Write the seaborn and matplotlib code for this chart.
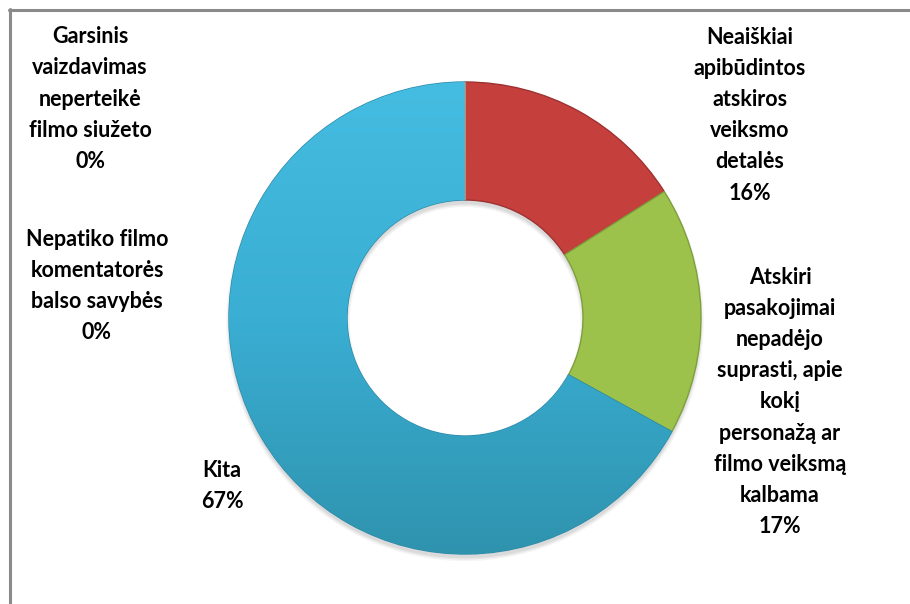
import matplotlib
matplotlib.use("Agg")
import matplotlib.pyplot as plt
from matplotlib.colors import LinearSegmentedColormap
from matplotlib.lines import Line2D
import numpy as np
import seaborn as sns

categories = [
    "Neaiškiai\napibūdintos\natskiros\nveiksmo\ndetalės",
    "Atskiri\npasakojimai\nnepadėjo\nsuprasti, apie\nkokį\npersonažą ar\nfilmo veiksmą\nkalbama",
    "Kita",
    "Nepatiko filmo\nkomentatorės\nbalso savybės",
    "Garsinis\nvaizdavimas\nneperteikė\nfilmo siužeto",
]
shares = [16, 17, 67, 0, 0]
colors = ["#c53f3d", "#9cc24b", "#3aaed3", "#8064a2", "#f79646"]

sns.set_theme(style="white")
plt.rcParams["font.family"] = ["Lato", "DejaVu Sans"]

W, H = 910, 604
fig = plt.figure(figsize=(W / 100, H / 100), dpi=100)
fig.patch.set_facecolor("white")

cx, cy, r = 465, 318, 236
ring = 0.5
ax = fig.add_axes([(cx - r) / W, (H - cy - r) / H, 2 * r / W, 2 * r / H])

# soft shadow
for k, a in enumerate([0.06, 0.05, 0.04]):
    ax.pie([sum(shares)], colors=["black"], radius=1.0 + 0.006 * k,
           center=(0.0, -0.018), startangle=90,
           wedgeprops=dict(width=ring + 0.012 * k, linewidth=0, alpha=a))

wedges, _ = ax.pie(shares, colors=colors, startangle=90, counterclock=False,
                   wedgeprops=dict(width=ring, linewidth=1.0))
edge_cols = ["#9e3231", "#7f9f3c", "#2d8aa8", "#8064a2", "#f79646"]
for w, ec in zip(wedges, edge_cols):
    w.set_edgecolor(ec)

# vertical gradient on the blue slice
blue_cmap = LinearSegmentedColormap.from_list("b", ["#2f93ae", "#3aaed3", "#45bce1"])
grad = np.linspace(0, 1, 256).reshape(-1, 1)
im = ax.imshow(grad, extent=[-1, 1, -1, 1], origin="lower", cmap=blue_cmap,
               aspect="auto", zorder=wedges[2].get_zorder() + 0.1)
im.set_clip_path(wedges[2])

ax.set_xlim(-1, 1)
ax.set_ylim(-1, 1)
ax.set_aspect("equal")
ax.axis("off")

labels = [f"{c}\n{p}%" for c, p in zip(categories, shares)]
label_pos = [(750, 115), (780, 402), (222, 486), (97, 286), (90, 99)]
for txt, (lx, ly) in zip(labels, label_pos):
    fig.text(lx / W, 1 - ly / H, txt, ha="center", va="center",
             fontsize=15.5, fontweight="bold", color="black", linespacing=1.6)

gray = "#8a8a8a"
fig.add_artist(Line2D([9 / W, 1], [1 - 10 / H, 1 - 10 / H], color=gray, lw=2.2,
                      transform=fig.transFigure))
fig.add_artist(Line2D([10 / W, 10 / W], [0, 1 - 9 / H], color=gray, lw=2.2,
                      transform=fig.transFigure))

fig.savefig("out.png", dpi=100, facecolor="white")
